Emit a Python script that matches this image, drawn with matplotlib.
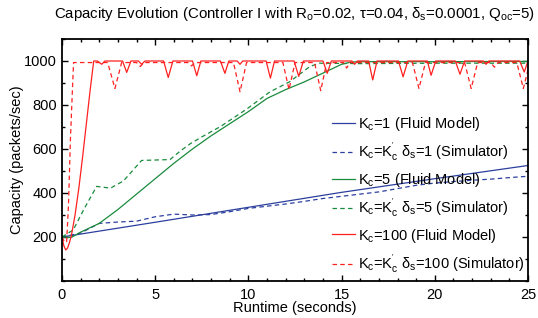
import numpy as np
import matplotlib
matplotlib.use("Agg")
import matplotlib.pyplot as plt
from matplotlib.ticker import MultipleLocator

plt.rcParams['font.family'] = ['Liberation Sans', 'DejaVu Sans']
plt.rcParams['mathtext.fontset'] = 'custom'
plt.rcParams['mathtext.rm'] = 'Liberation Sans'
plt.rcParams['mathtext.it'] = 'Liberation Sans:italic'
plt.rcParams['mathtext.default'] = 'regular'

# ---- data ----
# K_c = 1
t_blue_fluid = [0, 5, 10, 15, 20, 25]
v_blue_fluid = [200, 267, 335, 403, 465, 525]
t_blue_sim = [0, 1, 2, 3, 4, 5, 6, 7, 8, 9, 10, 11, 12, 13, 14, 15, 16, 17, 18,
              19, 20, 21, 22, 23, 24, 25]
v_blue_sim = [200, 218, 262, 268, 272, 292, 304, 300, 302, 315, 330, 340, 350,
              362, 375, 385, 395, 405, 420, 435, 445, 452, 458, 463, 470, 476]

# K_c = 5
t_green_fluid = [0, 0.5, 1, 2, 3, 4, 5, 6, 7, 8, 9, 10, 11, 12, 13, 14, 15,
                 15.5, 16, 20, 25]
v_green_fluid = [200, 198, 222, 262, 325, 395, 465, 535, 600, 660, 715, 770,
                 830, 870, 905, 945, 985, 995, 997, 997, 998]
t_green_sim = [0, 0.6, 1.2, 1.86, 2.6, 3.3, 4.27, 5.8, 6.33, 6.9, 7.5, 8.5,
               9.9, 11.16, 12.2, 13.3, 13.8, 16, 20, 25]
v_green_sim = [200, 232, 330, 430, 422, 455, 548, 552, 590, 625, 655, 702,
               781, 860, 905, 975, 990, 988, 990, 990]

# K_c = 100
t_red_fluid = [0, 0.1, 0.2, 0.3, 0.4, 0.5, 0.7, 0.9, 1.1, 1.3, 1.5, 1.7,
               1.9, 2.13, 2.3,
               3.25, 3.47, 3.7,
               4.1, 4.27, 4.45,
               5.45, 5.7, 5.95,
               7.0, 7.23, 7.45,
               8.5, 8.74, 8.95,
               9.4, 9.55, 9.7,
               10.95, 11.18, 11.4,
               12.45, 12.7, 12.95,
               14.0, 14.23, 14.45,
               15.55, 15.7, 15.85,
               16.45, 16.67, 16.9,
               18.05, 18.3, 18.55,
               19.6, 19.8, 20.05,
               21.1, 21.35, 21.6,
               22.6, 22.75, 22.9,
               24.55, 24.8, 25]
v_red_fluid = [200, 160, 141, 150, 175, 205, 300, 420, 560, 710, 860, 1000,
               1000, 985, 1000,
               1000, 948, 1000,
               1000, 985, 1000,
               1000, 925, 1000,
               1000, 933, 1000,
               1000, 944, 1000,
               1000, 985, 1000,
               1000, 922, 1000,
               1000, 930, 1000,
               1000, 944, 1000,
               1000, 985, 1000,
               1000, 914, 1000,
               1000, 928, 1000,
               1000, 935, 1000,
               1000, 940, 1000,
               1000, 985, 1000,
               1000, 950, 1000]
t_red_sim = [0, 0.15, 0.25, 0.35, 0.45, 0.55, 0.62,
             2.45, 2.84, 3.2,
             4.0, 4.2, 4.4,
             6.75, 6.95, 7.15,
             9.2, 9.55, 9.9,
             11.85, 12.18, 12.5,
             13.55, 13.88, 14.2,
             15.1, 15.27, 15.45,
             18.8, 19.15, 19.5,
             21.6, 21.95, 22.3,
             23.0, 23.2, 23.4,
             24.4, 24.75, 25]
v_red_sim = [200, 175, 180, 350, 640, 850, 993,
             993, 875, 993,
             993, 975, 993,
             993, 978, 993,
             993, 860, 993,
             993, 870, 993,
             993, 865, 993,
             993, 968, 993,
             993, 875, 993,
             993, 875, 993,
             993, 972, 993,
             993, 875, 960]

blue = '#2c3f9e'
green = '#1a8b3c'
red = '#ff2020'
dash = (3.6, 2.6)

fig = plt.figure(figsize=(5.38, 3.18), dpi=100)
ax = fig.add_axes([62/538, 1-281/318, 466/538, 242/318])

ax.plot(t_blue_fluid, v_blue_fluid, color=blue, lw=0.9,
        label=r'$K_c$=1 (Fluid Model)')
ax.plot(t_blue_sim, v_blue_sim, color=blue, lw=0.9, dashes=dash,
        label=r"$K_c$=$K_c^{'}$ $\delta_s$=1 (Simulator)")
ax.plot(t_green_fluid, v_green_fluid, color=green, lw=0.9,
        label=r'$K_c$=5 (Fluid Model)')
ax.plot(t_green_sim, v_green_sim, color=green, lw=0.9, dashes=dash,
        label=r"$K_c$=$K_c^{'}$ $\delta_s$=5 (Simulator)")
ax.plot(t_red_fluid, v_red_fluid, color=red, lw=0.9,
        label=r'$K_c$=100 (Fluid Model)')
ax.plot(t_red_sim, v_red_sim, color=red, lw=0.9, dashes=dash,
        label=r"$K_c$=$K_c^{'}$ $\delta_s$=100 (Simulator)")

ax.set_xlim(0, 25)
ax.set_ylim(0, 1100)
ax.xaxis.set_major_locator(MultipleLocator(5))
ax.xaxis.set_minor_locator(MultipleLocator(1))
ax.set_yticks([200, 400, 600, 800, 1000])
ax.yaxis.set_minor_locator(MultipleLocator(100))
ax.tick_params(which='both', direction='in', top=True, right=True,
               labelsize=10.5, width=1)
ax.tick_params(which='major', length=4)
ax.tick_params(which='minor', length=2.5)
ax.tick_params(axis='x', pad=5)
for s in ax.spines.values():
    s.set_linewidth(1.3)

ax.set_xlabel('Runtime (seconds)', fontsize=10.5, labelpad=-1)
ax.set_ylabel('Capacity (packets/sec)', fontsize=10.5, labelpad=0)
ax.set_title(r'Capacity Evolution (Controller I with $R_o$=0.02, $\tau$=0.04, '
             r'$\delta_s$=0.0001, $Q_{oc}$=5)', fontsize=10.8, pad=15)

ax.legend(loc='upper left', bbox_to_anchor=(332/538, 1-115/318),
          bbox_transform=fig.transFigure, frameon=False, fontsize=10.5,
          handlelength=1.6, handletextpad=0.15, labelspacing=0.52,
          borderpad=0, borderaxespad=0)

fig.savefig('out.png', dpi=100)
